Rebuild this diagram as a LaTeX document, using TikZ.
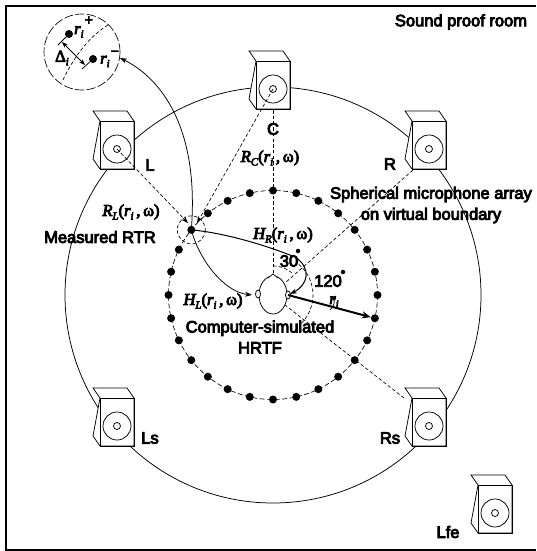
\documentclass[tikz,border=0pt]{standalone}
\usepackage{fontspec}
\setmainfont[FakeBold=5]{Liberation Sans}
\newfontfamily\serf[FakeBold=5]{Liberation Serif}
\usetikzlibrary{arrows.meta,shapes.geometric}
\newcommand{\subt}[1]{\raisebox{-.22em}{\fontsize{11}{11}\selectfont #1}}
\newcommand{\tf}[2]{{\serf\itshape #1\subt{#2}\upshape(\itshape r\subt{i}\upshape\,,\,ω)}}
\newcommand{\spk}[2]{%
  \coordinate (#1) at #2;
  \begin{scope}[shift={#2}]
    \draw[fill=white,thin line] (-17,-28) -- (-24,-38) -- (10,-38) -- (17,-28) -- (17,20) -- (-17,20) -- (-24,10) -- cycle;
    \draw[thin line] (-17,-28) rectangle (17,20);
    \draw[thin line] (0,0) circle[radius=14];
    \draw[thin line] (0,0) circle[radius=3.5];
  \end{scope}}
\tikzset{
  thin line/.style={line width=0.75pt,draw=black},
  dash line/.style={line width=0.65pt,dash pattern=on 3.5pt off 2.2pt},
  tip/.style={-{Stealth[length=7pt,width=5pt]}},
  dotn/.style={circle,fill=black,inner sep=0pt,minimum size=8pt},
  lbl/.style={inner sep=0pt,font=\fontsize{16.5}{18}\selectfont,align=center},
}
\begin{document}
\begin{tikzpicture}[x=1pt,y=-1pt]
\useasboundingbox (0,0) rectangle (536,551);
\fill[white] (0,0) rectangle (536,551);
\draw[line width=2.6pt] (536,6) -- (6,6) -- (6,550) -- (536,550);
\coordinate (o) at (273,295);
\draw[thin line] (o) circle[radius=208];
% speakers
\spk{L}{(117,149)}
\spk{C}{(273,89)}
\spk{R}{(429,149)}
\spk{Ls}{(117,426)}
\spk{Rs}{(429,426)}
\spk{Lfe}{(495,513)}
% array
\draw[dash line,dash pattern=on 5pt off 2.5pt] (o) circle[radius=104.5];
\foreach \k in {0,...,27}{
  \node[dotn] (d\k) at ({273+104.5*cos(\k*360/28)},{295-104.5*sin(\k*360/28)}) {};
}
% head
\node[ellipse,draw,thin line,fill=white,minimum width=28pt,minimum height=38pt,inner sep=0pt] (head) at (o) {};
\coordinate (nose) at (273,274);
\coordinate (earL) at (258,294);
\coordinate (earR) at (288,295);
\draw[thin line,fill=white] (268,278) -- (nose) -- (278,278);
\draw[thin line,fill=white] (earL) ellipse[x radius=2.5,y radius=4];
\draw[thin line,fill=white] (earR) ellipse[x radius=2.5,y radius=4];
% dashed speaker lines
\draw[dash line,tip] (L) -- (188,223);
\draw[dash line,tip] (C) -- (197,223);
\draw[dash line] (273,110) -- (nose);
\draw[dash line] (413,170) -- (285,283);
\draw[dash line] (404,398) -- (285,305);
% angle arcs
\draw[dash line] plot[domain=90:50,samples=14] ({273+29*cos(\x)},{295-29*sin(\x)});
\draw[dash line] plot[domain=50:-45,samples=30] ({273+40*cos(\x)},{295-40*sin(\x)});
% measured point
\coordinate (m) at (d11);
\draw[dash line] (m) circle[radius=14];
% big circle
\coordinate (bc) at (82,52);
\draw[dash line,dash pattern=on 9pt off 2.5pt] (bc) circle[radius=38];
\draw[dash line] (108,25) .. controls (88,37) and (72,60) .. (62,82);
\node[dotn] (rp) at (69,34) {};
\node[dotn] (rm) at (93,59) {};
\coordinate (rpt) at (58,45);
\coordinate (rmt) at (82,69);
\draw[thin line] (rp) -- (rpt);
\draw[thin line] (rm) -- (rmt);
\draw[thin line,{Stealth[length=6pt,width=4.5pt]}-{Stealth[length=6pt,width=4.5pt]}] (62,42) -- (85,65);
% curves
\draw[thin line,tip] (m) .. controls (200,120) and (155,75) .. (120,58);
\draw[thin line,tip] (m) .. controls (200,262) and (225,292) .. (252,295);
\draw[line width=1pt,tip] (m) .. controls (225,233) and (265,245) .. (295,257) .. controls (312,268) and (308,285) .. (290,294);
\draw[line width=2pt,-{Stealth[length=9pt,width=7pt]}] (earR) -- (d27);
\draw[thin line,-{Stealth[length=4pt,width=3.5pt]}] (330,310) .. controls (334,306) and (335,302) .. (333,297);
% labels
\node[lbl] (t1) at (461,22) {Sound proof room};
\node[lbl] at (150,165) {L};
\node[lbl] at (273,129) {C};
\node[lbl] at (390,164) {R};
\node[lbl] at (150,438) {Ls};
\node[lbl] at (390,438) {Rs};
\node[lbl] at (448,532) {Lfe};
\node[lbl] at (431,205) {Spherical microphone array\\[3pt]on virtual boundary};
\node[lbl] at (100,237) {Measured RTR};
\node[lbl] at (260,337) {Computer-simulated\\[3pt]HRTF};
\node[lbl] at (131,212) {\tf{R}{L}};
\node[lbl] at (270,158) {\tf{R}{C}};
\node[lbl] at (283,235) {\tf{H}{R}};
\node[lbl] at (213,301) {\tf{H}{L}};
\node[lbl] at (289,261) {30};
\node[lbl] at (328,281) {120};
\node[dotn,minimum size=4.5pt] (deg1) at (298,251) {};
\node[dotn,minimum size=4.5pt] (deg2) at (343,272) {};
\node[lbl] at (334,302) {\serf\itshape r\subt{i}};
\node[lbl] at (84,27) {\serf\itshape r\subt{i}\raisebox{.55em}{\fontsize{15}{15}\selectfont +}};
\node[lbl] at (110,59) {\serf\itshape r\subt{i}\raisebox{.45em}{\fontsize{15}{15}\selectfont −}};
\node[lbl] at (62,58) {\serf Δ\subt{\itshape i}};
\end{tikzpicture}
\end{document}
